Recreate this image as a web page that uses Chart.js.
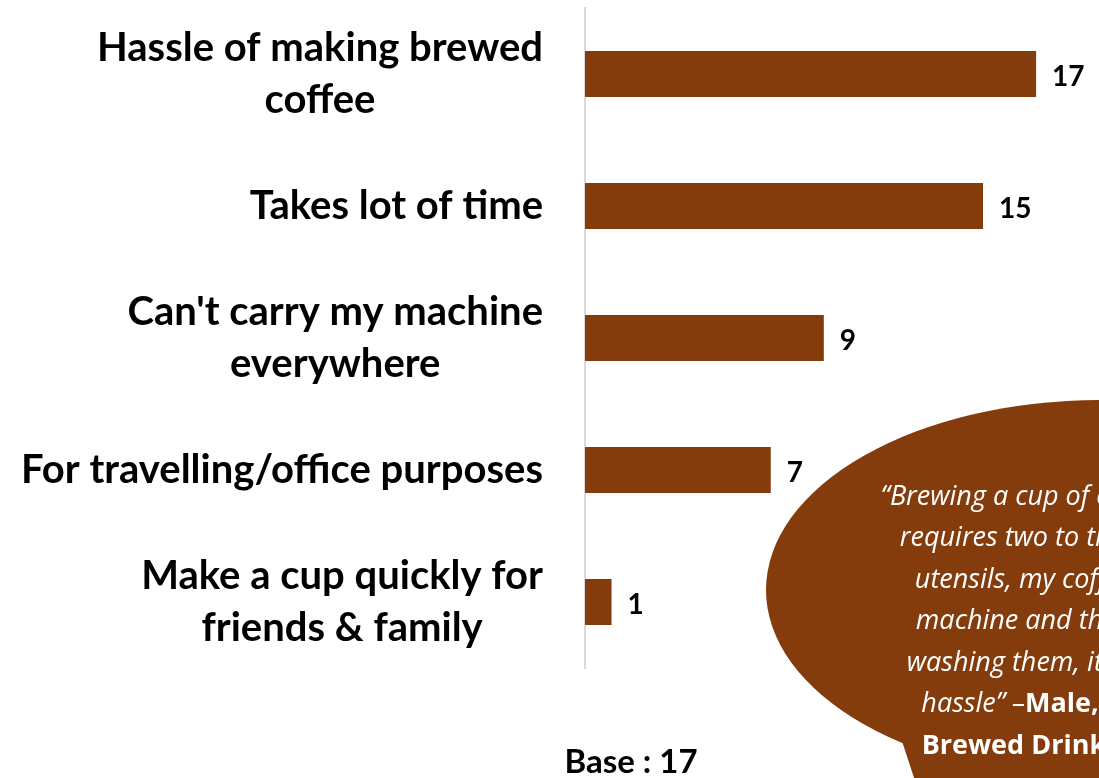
<!DOCTYPE html>
<html>
<head>
<meta charset="utf-8">
<script src="https://cdn.jsdelivr.net/npm/chart.js@4.4.1/dist/chart.umd.min.js"></script>
<style>
  html, body { margin: 0; padding: 0; background: #fff; }
  #wrap { position: relative; width: 1099px; height: 778px; }
</style>
</head>
<body>
<div id="wrap"><canvas id="myChart" width="1099" height="778"></canvas></div>
<script>
const reasons = [
    ['Hassle of making brewed', 'coffee'],
    ['Takes lot of time'],
    ["Can't carry my machine", 'everywhere'],
    ['For travelling/office purposes'],
    ['Make a cup quickly for', 'friends & family']
];
const counts = [17, 15, 9, 7, 1];
const base_note = 'Base : 17';

const quote_lines = [
    '\u201cBrewing a cup of coffee',
    'requires two to three',
    'utensils, my coffee',
    'machine and then',
    'washing them, it\u2019s a'
];
const quote_end = 'hassle\u201d \u2013';
const quote_who = ['Male,', 'Brewed Drinker'];

const brown = '#843C0C';
const label_font = 'Lato, "Liberation Sans", sans-serif';

// category labels: each block right-aligned to the axis, its lines centred
const categoryLabels = {
    id: 'categoryLabels',
    afterDraw(chart) {
        const ctx = chart.ctx;
        const scale = chart.scales.y;
        const right = scale.right - 42;
        const lineH = 52;
        ctx.save();
        ctx.font = 'bold 40px ' + label_font;
        ctx.fillStyle = '#000';
        ctx.textAlign = 'center';
        ctx.textBaseline = 'middle';
        reasons.forEach((lines, i) => {
            const y = scale.getPixelForTick(i);
            const w = Math.max(...lines.map(l => ctx.measureText(l).width));
            const cx = right - w / 2;
            const top = y - (lines.length - 1) * lineH / 2;
            lines.forEach((l, j) => ctx.fillText(l, cx, top + j * lineH));
        });
        ctx.restore();
    }
};

// value labels just past the end of each bar
const barValues = {
    id: 'barValues',
    afterDatasetsDraw(chart) {
        const ctx = chart.ctx;
        const meta = chart.getDatasetMeta(0);
        ctx.save();
        ctx.font = 'bold 28px ' + label_font;
        ctx.fillStyle = '#000';
        ctx.textBaseline = 'middle';
        ctx.textAlign = 'left';
        meta.data.forEach((bar, i) => {
            ctx.fillText(String(counts[i]), bar.x + 16, bar.y + 3);
        });
        ctx.restore();
    }
};

// base note and the speech bubble quote
const extras = {
    id: 'extras',
    afterDraw(chart) {
        const ctx = chart.ctx;
        ctx.save();

        ctx.font = 'bold 33px ' + label_font;
        ctx.fillStyle = '#000';
        ctx.textAlign = 'center';
        ctx.textBaseline = 'middle';
        ctx.fillText(base_note, 631, 762);

        // bubble
        ctx.fillStyle = brown;
        ctx.beginPath();
        ctx.ellipse(1100, 590, 334, 190, 0, 0, Math.PI * 2);
        ctx.fill();
        ctx.beginPath();
        ctx.moveTo(900, 735);
        ctx.lineTo(918, 790);
        ctx.lineTo(1110, 790);
        ctx.lineTo(1110, 700);
        ctx.closePath();
        ctx.fill();

        const cx = 1024;
        const step = 41.5;
        let y = 497;
        const italicFont = 'italic 27px "Open Sans", sans-serif';
        const boldFont = 'bold 27px "Open Sans", sans-serif';
        ctx.fillStyle = '#fff';
        ctx.textAlign = 'center';
        ctx.font = italicFont;
        quote_lines.forEach(line => {
            ctx.fillText(line, cx, y);
            y += step;
        });

        // mixed italic / bold line
        ctx.font = italicFont;
        const w1 = ctx.measureText(quote_end).width;
        ctx.font = boldFont;
        const w2 = ctx.measureText(quote_who[0]).width;
        const x = cx - 14 - (w1 + w2) / 2;
        ctx.textAlign = 'left';
        ctx.font = italicFont;
        ctx.fillText(quote_end, x, y);
        ctx.font = boldFont;
        ctx.fillText(quote_who[0], x + w1, y);
        y += step;

        ctx.textAlign = 'center';
        ctx.fillText(quote_who[1], cx + 4, y);

        ctx.restore();
    }
};

const context = document.getElementById('myChart');

const chart = new Chart(context, {
    type: 'bar',
    data: {
        labels: reasons,
        datasets: [{
            data: counts,
            backgroundColor: brown,
            borderWidth: 0,
            categoryPercentage: 0.7,
            barPercentage: 0.5
        }]
    },
    options: {
        indexAxis: 'y',
        responsive: false,
        animation: { duration: 0 },
        layout: {
            padding: { top: 8, bottom: 110, left: 0, right: 0 }
        },
        scales: {
            x: {
                display: false,
                min: 0,
                max: 19.37
            },
            y: {
                afterFit(scale) {
                    scale.width = 585;
                    scale.paddingTop = 0;
                    scale.paddingBottom = 0;
                },
                grid: { display: false, drawTicks: false },
                border: { display: true, color: '#d9d9d9', width: 2 },
                ticks: { display: false }
            }
        },
        plugins: {
            legend: { display: false },
            tooltip: { enabled: false }
        }
    },
    plugins: [categoryLabels, barValues, extras]
});
</script>
</body>
</html>
